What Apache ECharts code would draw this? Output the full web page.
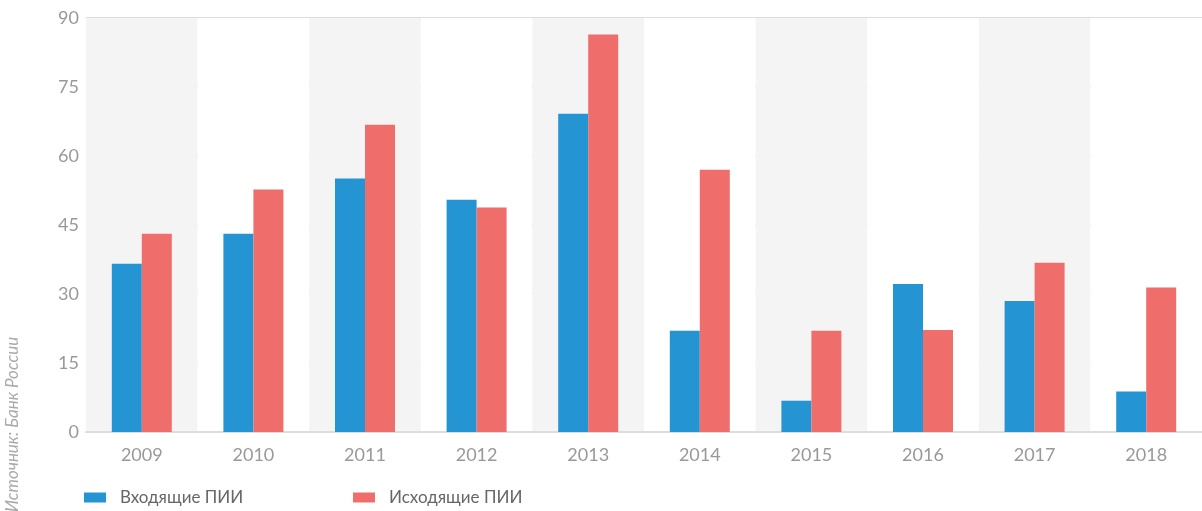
<!DOCTYPE html>
<html>
<head>
<meta charset="utf-8">
<script src="https://cdn.jsdelivr.net/npm/echarts@6/dist/echarts.min.js"></script>
<style>
  html, body { margin: 0; padding: 0; background: #fff; }
  #chart { width: 1202px; height: 511px; }
</style>
</head>
<body>
<div id="chart"></div>
<script>
// данные
const years = ['2009', '2010', '2011', '2012', '2013', '2014', '2015', '2016', '2017', '2018'];
const inbound = [36.6, 43.1, 55.1, 50.5, 69.2, 22.0, 6.8, 32.2, 28.5, 8.8];
const outbound = [43.1, 52.7, 66.8, 48.8, 86.4, 57.0, 22.0, 22.2, 36.8, 31.4];
const yTicks = [0, 15, 30, 45, 60, 75, 90];
const names = ['Входящие ПИИ', 'Исходящие ПИИ'];

const FONT = 'Lato, "Noto Sans", sans-serif';

const legendBase = {
  top: 489,
  padding: 0,
  itemWidth: 22,
  itemHeight: 10,
  icon: 'rect',
  textStyle: { color: '#666', fontSize: 17, fontFamily: FONT, padding: [0, 0, 0, 9] }
};

const chart = echarts.init(document.getElementById('chart'));

chart.setOption({
  animation: false,
  grid: { left: 86, top: 18, right: -4, bottom: 79 },
  legend: [
    Object.assign({}, legendBase, { left: 84, data: [names[0]] }),
    Object.assign({}, legendBase, { left: 353, data: [names[1]] })
  ],
  graphic: [{
    type: 'text',
    x: 13,
    y: 512,
    rotation: Math.PI / 2,
    style: {
      text: 'Источник: Банк России',
      fill: '#aaa',
      fontSize: 17,
      fontStyle: 'italic',
      fontFamily: FONT,
      textAlign: 'left',
      textVerticalAlign: 'middle'
    }
  }],
  xAxis: {
    type: 'category',
    data: years,
    axisLine: { lineStyle: { color: '#ddd', width: 2 } },
    axisTick: { show: false },
    axisLabel: { color: '#999', fontSize: 18, fontFamily: FONT, margin: 14 },
    splitArea: { show: true, areaStyle: { color: ['#f4f4f4', '#ffffff'] } }
  },
  yAxis: {
    type: 'value',
    min: yTicks[0],
    max: yTicks[yTicks.length - 1],
    interval: 15,
    axisLine: { show: false },
    axisTick: { show: false },
    axisLabel: { color: '#999', fontSize: 18, fontFamily: FONT, margin: 7 },
    splitLine: { lineStyle: { color: '#ddd', width: 2 } }
  },
  series: [
    {
      name: names[0],
      type: 'bar',
      data: inbound,
      barWidth: 30,
      barGap: '0%',
      itemStyle: { color: '#2494d2' }
    },
    {
      name: names[1],
      type: 'bar',
      data: outbound,
      barWidth: 30,
      itemStyle: { color: '#ef6e6c' }
    }
  ]
});
</script>
</body>
</html>
